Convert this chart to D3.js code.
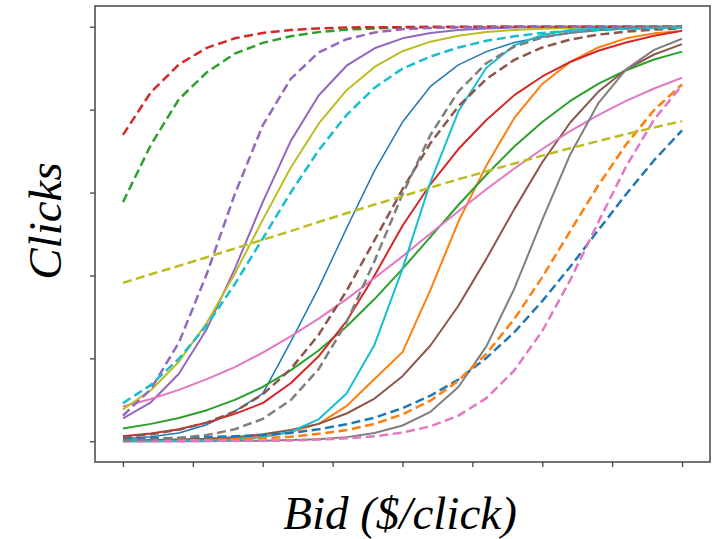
<!DOCTYPE html>
<html lang="en">
<head>
<meta charset="utf-8">
<title>Clicks vs Bid</title>
<script src="https://d3js.org/d3.v7.min.js"></script>
<style>
  body { margin: 0; background: #fff; }
</style>
</head>
<body>
<div id="chart"></div>
<script>
// bid values (x), same for every curve
var bids = [0, 0.05, 0.1, 0.15, 0.2, 0.25, 0.3, 0.35, 0.4, 0.45, 0.5, 0.55, 0.6, 0.65, 0.7, 0.75, 0.8, 0.85, 0.9, 0.95, 1.0];

// solid curves
var blueSolid   = [0.006, 0.011, 0.020, 0.040, 0.072, 0.115, 0.240, 0.370, 0.514, 0.653, 0.770, 0.856, 0.908, 0.940, 0.962, 0.975, 0.985, 0.991, 0.995, 0.997, 0.998];
var orangeSolid = [0.001, 0.002, 0.003, 0.005, 0.008, 0.012, 0.022, 0.042, 0.085, 0.150, 0.215, 0.365, 0.530, 0.665, 0.780, 0.862, 0.915, 0.950, 0.972, 0.984, 0.990];
var greenSolid  = [0.031, 0.042, 0.056, 0.075, 0.100, 0.131, 0.171, 0.219, 0.277, 0.343, 0.416, 0.493, 0.570, 0.643, 0.711, 0.770, 0.821, 0.862, 0.895, 0.921, 0.940];
var redSolid    = [0.012, 0.019, 0.029, 0.045, 0.066, 0.092, 0.140, 0.205, 0.290, 0.400, 0.520, 0.620, 0.705, 0.775, 0.835, 0.880, 0.915, 0.942, 0.962, 0.978, 0.990];
var purpleSolid = [0.055, 0.094, 0.163, 0.271, 0.416, 0.577, 0.724, 0.834, 0.906, 0.948, 0.972, 0.985, 0.992, 0.996, 0.998, 0.999, 1, 1, 1, 1, 1];
var brownSolid  = [0.002, 0.003, 0.004, 0.006, 0.010, 0.017, 0.027, 0.042, 0.067, 0.103, 0.157, 0.231, 0.327, 0.440, 0.560, 0.673, 0.769, 0.843, 0.897, 0.933, 0.958];
var pinkSolid   = [0.084, 0.102, 0.124, 0.150, 0.179, 0.214, 0.253, 0.296, 0.343, 0.394, 0.446, 0.501, 0.555, 0.608, 0.658, 0.705, 0.748, 0.787, 0.821, 0.851, 0.877];
var graySolid   = [0, 0, 0, 0, 0.001, 0.001, 0.003, 0.005, 0.010, 0.020, 0.038, 0.071, 0.131, 0.229, 0.368, 0.534, 0.692, 0.815, 0.897, 0.944, 0.971];
var oliveSolid  = [0.077, 0.123, 0.192, 0.286, 0.404, 0.534, 0.660, 0.766, 0.847, 0.903, 0.941, 0.964, 0.978, 0.987, 0.992, 0.995, 0.997, 0.998, 0.999, 0.999, 1];
var cyanSolid   = [0, 0, 0.001, 0.002, 0.004, 0.010, 0.023, 0.053, 0.115, 0.233, 0.416, 0.625, 0.796, 0.901, 0.955, 0.980, 0.992, 0.996, 0.998, 0.999, 1];

// dashed curves
var blueDashed   = [0.006, 0.007, 0.008, 0.010, 0.012, 0.015, 0.020, 0.029, 0.041, 0.057, 0.080, 0.110, 0.149, 0.201, 0.263, 0.338, 0.421, 0.509, 0.596, 0.678, 0.750];
var orangeDashed = [0.001, 0.001, 0.002, 0.003, 0.005, 0.007, 0.011, 0.018, 0.027, 0.042, 0.065, 0.098, 0.146, 0.211, 0.295, 0.396, 0.507, 0.617, 0.716, 0.799, 0.861];
var greenDashed  = [0.577, 0.715, 0.825, 0.890, 0.935, 0.961, 0.977, 0.987, 0.993, 0.996, 0.998, 0.999, 0.999, 1, 1, 1, 1, 1, 1, 1, 1];
var redDashed    = [0.739, 0.842, 0.909, 0.949, 0.972, 0.985, 0.992, 0.996, 0.998, 0.999, 0.999, 1, 1, 1, 1, 1, 1, 1, 1, 1, 1];
var purpleDashed = [0.062, 0.126, 0.238, 0.404, 0.596, 0.762, 0.874, 0.938, 0.970, 0.986, 0.994, 0.997, 0.999, 0.999, 1, 1, 1, 1, 1, 1, 1];
var brownDashed  = [0.010, 0.017, 0.028, 0.045, 0.072, 0.113, 0.174, 0.257, 0.363, 0.485, 0.608, 0.719, 0.808, 0.874, 0.920, 0.950, 0.969, 0.981, 0.988, 0.993, 0.996];
var pinkDashed   = [0, 0, 0, 0.001, 0.001, 0.001, 0.002, 0.004, 0.007, 0.012, 0.021, 0.036, 0.062, 0.104, 0.171, 0.266, 0.389, 0.528, 0.663, 0.776, 0.859];
var grayDashed   = [0.002, 0.004, 0.008, 0.015, 0.029, 0.054, 0.099, 0.174, 0.287, 0.435, 0.596, 0.739, 0.844, 0.912, 0.952, 0.974, 0.986, 0.993, 0.996, 0.998, 0.999];
var oliveDashed  = [0.382, 0.403, 0.423, 0.444, 0.465, 0.486, 0.507, 0.529, 0.550, 0.571, 0.591, 0.612, 0.632, 0.651, 0.670, 0.689, 0.707, 0.724, 0.741, 0.757, 0.772];
var cyanDashed   = [0.092, 0.136, 0.199, 0.280, 0.379, 0.489, 0.600, 0.702, 0.787, 0.853, 0.899, 0.928, 0.950, 0.966, 0.977, 0.985, 0.990, 0.993, 0.995, 0.997, 0.998];

var xTicks = [0, 0.125, 0.25, 0.375, 0.5, 0.625, 0.75, 0.875, 1];
var yTicks = [0, 0.2, 0.4, 0.6, 0.8, 1];

var series = [
  {v: blueSolid, c: "#1f77b4", dash: false, w: 1.5},
  {v: orangeSolid, c: "#ff7f0e", dash: false},
  {v: greenSolid, c: "#2ca02c", dash: false},
  {v: redSolid, c: "#d62728", dash: false},
  {v: purpleSolid, c: "#9467bd", dash: false},
  {v: brownSolid, c: "#8c564b", dash: false},
  {v: pinkSolid, c: "#e377c2", dash: false},
  {v: graySolid, c: "#7f7f7f", dash: false},
  {v: oliveSolid, c: "#bcbd22", dash: false},
  {v: cyanSolid, c: "#17becf", dash: false},
  {v: blueDashed, c: "#1f77b4", dash: true},
  {v: orangeDashed, c: "#ff7f0e", dash: true},
  {v: greenDashed, c: "#2ca02c", dash: true},
  {v: redDashed, c: "#d62728", dash: true},
  {v: purpleDashed, c: "#9467bd", dash: true},
  {v: brownDashed, c: "#8c564b", dash: true},
  {v: pinkDashed, c: "#e377c2", dash: true},
  {v: grayDashed, c: "#7f7f7f", dash: true},
  {v: oliveDashed, c: "#bcbd22", dash: true},
  {v: cyanDashed, c: "#17becf", dash: true}
];

var W = 713, H = 539;
var box = {left: 95, top: 6, right: 710, bottom: 462};

var svg = d3.select("#chart").append("svg")
  .attr("width", W)
  .attr("height", H);

// 5% padding on each side like matplotlib
var x = d3.scaleLinear().domain([-0.05, 1.05]).range([box.left, box.right]);
var y = d3.scaleLinear().domain([-0.05, 1.05]).range([box.bottom, box.top]);

var line = d3.line()
  .x(function(d, i) { return x(bids[i]); })
  .y(function(d) { return y(d); });

var plot = svg.append("g");
series.forEach(function(s) {
  plot.append("path")
    .datum(s.v)
    .attr("d", line)
    .attr("fill", "none")
    .attr("stroke", s.c)
    .attr("stroke-width", s.dash ? 2.5 : (s.w || 2))
    .attr("stroke-dasharray", s.dash ? "9,4.5" : null)
    .attr("stroke-linejoin", "round");
});

// axes, no tick labels
svg.append("g")
  .attr("transform", "translate(0," + box.bottom + ")")
  .call(d3.axisBottom(x).tickValues(xTicks).tickFormat("").tickSizeInner(5).tickSizeOuter(0));
svg.append("g")
  .attr("transform", "translate(" + box.left + ",0)")
  .call(d3.axisLeft(y).tickValues(yTicks).tickFormat("").tickSizeInner(5).tickSizeOuter(0));
svg.selectAll(".domain").remove();
svg.selectAll(".tick line").attr("stroke", "#444").attr("stroke-width", 1.3);

svg.append("rect")
  .attr("x", box.left)
  .attr("y", box.top)
  .attr("width", box.right - box.left)
  .attr("height", box.bottom - box.top)
  .attr("fill", "none")
  .attr("stroke", "#444")
  .attr("stroke-width", 1.5);

svg.append("text")
  .attr("x", 400)
  .attr("y", 529)
  .attr("text-anchor", "middle")
  .style("font-family", "'Liberation Serif'")
  .style("font-style", "italic")
  .style("font-size", "47px")
  .text("Bid ($/click)");

svg.append("text")
  .attr("transform", "translate(61,221) rotate(-90)")
  .attr("text-anchor", "middle")
  .style("font-family", "'Liberation Serif'")
  .style("font-style", "italic")
  .style("font-size", "47px")
  .text("Clicks");
</script>
</body>
</html>
